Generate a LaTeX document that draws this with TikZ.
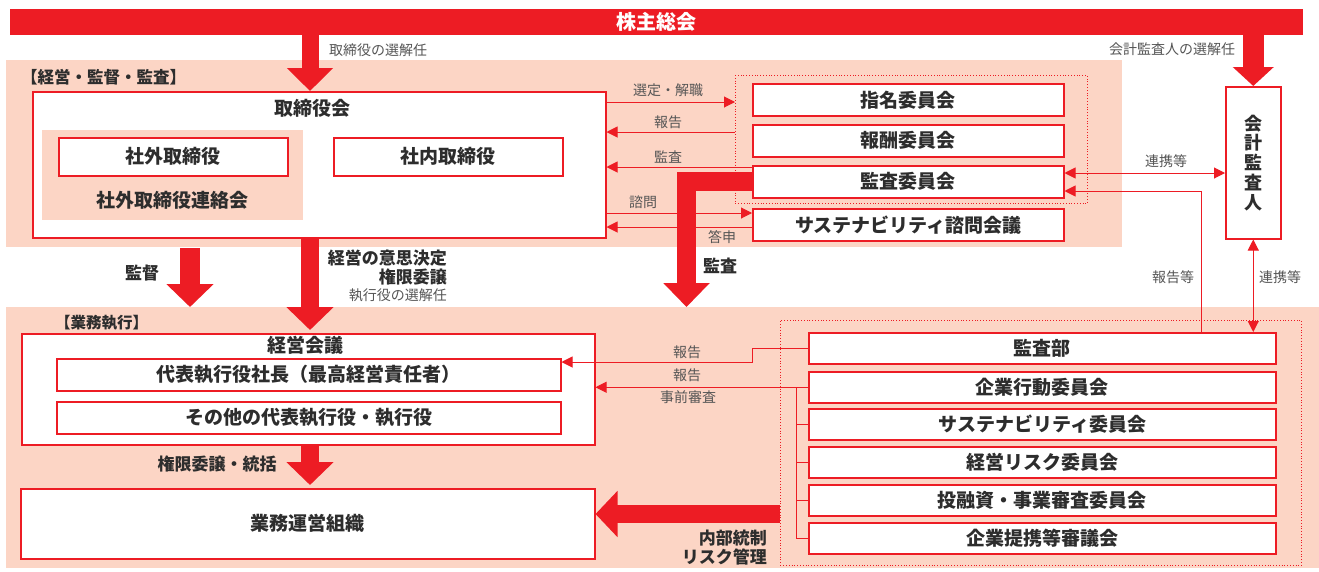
\documentclass[tikz,border=0pt]{standalone}
\usepackage{fontspec}
\setmainfont{Noto Sans CJK JP}
\newfontfamily\jp{Noto Sans CJK JP}
\usetikzlibrary{arrows.meta,calc}
\definecolor{jred}{RGB}{237,28,36}
\definecolor{jpeach}{RGB}{252,213,197}
\definecolor{jtext}{RGB}{45,45,45}
\definecolor{jlab}{RGB}{85,85,85}
\begin{document}
\begin{tikzpicture}[x=1pt,y=-1pt,
  rbox/.style={draw=jred, line width=1.5pt, fill=white, inner sep=0pt, anchor=north west, text=jtext, font=\jp\bfseries\fontsize{19}{22}\selectfont},
  btext/.style={text=jtext, inner sep=0pt, font=\jp\bfseries\fontsize{19}{22}\selectfont},
  peach/.style={fill=jpeach, inner sep=0pt, anchor=north west},
  dotbox/.style={draw=jred, dotted, line width=0.8pt, inner sep=0pt, anchor=north west},
  conn/.style={draw=jred, line width=1pt, -{Triangle[length=11pt,width=11pt]}},
  conntwo/.style={draw=jred, line width=1pt, {Triangle[length=11pt,width=11pt]}-{Triangle[length=11pt,width=11pt]}},
  plain/.style={draw=jred, line width=1pt},
  lab/.style={text=jlab, font=\jp\fontsize{14}{16}\selectfont, inner sep=0pt},
  blab/.style={text=jtext, font=\jp\bfseries\fontsize{17}{20}\selectfont, inner sep=0pt},
  bigarrow/.style={draw=jred, line width=18pt, -{Triangle[length=23pt,width=46pt]}},
]
\fill[white] (0,0) rectangle (1319,571);
\useasboundingbox (0,0) rectangle (1319,571);

% helper coordinates
\coordinate (x310) at (310,0);
\coordinate (x1201) at (1201,0);
\coordinate (x796) at (796,0);
\coordinate (y102) at (0,102);
\coordinate (y132) at (0,132);
\coordinate (y167) at (0,167);
\coordinate (y173) at (0,173);
\coordinate (y191) at (0,191);
\coordinate (y213) at (0,213);
\coordinate (y227) at (0,227);
\coordinate (y362) at (0,362);
\coordinate (y514) at (0,514);

% top bar
\node[fill=jred, minimum width=1293pt, minimum height=26pt, inner sep=0pt, anchor=north west, text=white, font=\jp\bfseries\fontsize{20}{22}\selectfont] (agm) at (10,9) {株主総会};

% regions
\node[peach, minimum width=1116pt, minimum height=187pt] (upper) at (6,60) {};
\node[peach, minimum width=1313pt, minimum height=261pt] (lower) at (6,307) {};
\node[text=jtext, anchor=west, inner sep=0pt, font=\jp\bfseries\fontsize{16.5}{18}\selectfont] (ulab) at (21,77) {【経営・監督・監査】};
\node[text=jtext, anchor=west, inner sep=0pt, font=\jp\bfseries\fontsize{15.5}{17}\selectfont] (llab) at (55,323) {【業務執行】};

% board
\node[rbox, minimum width=573pt, minimum height=146pt] (tb) at (32,91) {};
\node[btext] (tbtitle) at (312,108) {取締役会};
\node[peach, minimum width=261pt, minimum height=90pt] (outer) at (42,130) {};
\node[rbox, minimum width=229pt, minimum height=38pt] (shagai) at (58,137) {社外取締役};
\node[btext] (renraku) at (172,200) {社外取締役連絡会};
\node[rbox, minimum width=229pt, minimum height=38pt] (shanai) at (333,137) {社内取締役};

% committees
\node[dotbox, minimum width=352pt, minimum height=128pt] (dotA) at (735,75) {};
\node[rbox, minimum width=311pt, minimum height=32pt] (shimei) at (752,83) {指名委員会};
\node[rbox, minimum width=311pt, minimum height=32pt] (hoshu) at (752,124) {報酬委員会};
\node[rbox, minimum width=311pt, minimum height=32pt] (kansa) at (752,165) {監査委員会};
\node[rbox, minimum width=311pt, minimum height=32pt] (sust) at (752,208) {サステナビリティ諮問会議};

% auditor
\node[rbox, minimum width=55pt, minimum height=152pt, align=center, font=\jp\bfseries\fontsize{18}{19.7}\selectfont] (auditor) at (1225,86) {会\\計\\監\\査\\人};

% execution
\node[rbox, minimum width=573pt, minimum height=111pt] (keiei) at (21,333) {};
\node[btext] (keieititle) at (305,345) {経営会議};
\node[rbox, minimum width=504pt, minimum height=32pt] (daihyo) at (56,358) {代表執行役社長（最高経営責任者）};
\node[rbox, minimum width=504pt, minimum height=32pt] (sonota) at (56,401) {その他の代表執行役・執行役};
\node[rbox, minimum width=574pt, minimum height=70pt] (gyomu) at (20,488) {業務運営組織};

\node[dotbox, minimum width=521pt, minimum height=245pt] (dotB) at (780,320) {};
\node[rbox, minimum width=467pt, minimum height=31pt] (kansabu) at (808,332) {監査部};
\node[rbox, minimum width=467pt, minimum height=31pt] (kigyo) at (808,371) {企業行動委員会};
\node[rbox, minimum width=467pt, minimum height=31pt] (sust2) at (808,408) {サステナビリティ委員会};
\node[rbox, minimum width=467pt, minimum height=31pt] (risk) at (808,446) {経営リスク委員会};
\node[rbox, minimum width=467pt, minimum height=31pt] (toyushi) at (808,484) {投融資・事業審査委員会};
\node[rbox, minimum width=467pt, minimum height=31pt] (teikei) at (808,522) {企業提携等審議会};

% thin connectors upper
\draw[conn] (tb.east |- y102) -- (dotA.west |- y102);
\draw[conn] (dotA.west |- y132) -- (tb.east |- y132);
\draw[conn] (kansa.west |- y167) -- (tb.east |- y167);
\draw[conn] (tb.east |- y213) -- (sust.west |- y213);
\draw[conn] (sust.west |- y227) -- (tb.east |- y227);
\draw[conntwo] (kansa.east |- y173) -- (auditor.west |- y173);
\draw[conn] (kansabu.north -| x1201) |- (kansa.east |- y191);
\draw[conntwo] (auditor.south) -- (auditor.south |- kansabu.north);

\node[lab] (l1) at (668,90) {選定・解職};
\node[lab] (l2) at (668,122) {報告};
\node[lab] (l3) at (668,157) {監査};
\node[lab] (l4) at (643,202) {諮問};
\node[lab] (l5) at (722,237) {答申};
\node[lab] (l6) at (1166,161) {連携等};
\node[lab] (l7) at (1173,277) {報告等};
\node[lab] (l8) at (1280,277) {連携等};
\node[lab] (l9) at (378,50) {取締役の選解任};
\node[lab] (l10) at (1172,49) {会計監査人の選解任};

% thin connectors lower
\draw[conn] (kansabu.west) -- ++(-56,0) |- (daihyo.east |- y362);
\draw[conn] (kigyo.west) -- (keiei.east |- kigyo.west);
\draw[plain] (kigyo.west) -- ++(-12,0) |- (teikei.west);
\draw[plain] (x796 |- sust2.west) -- (sust2.west);
\draw[plain] (x796 |- risk.west) -- (risk.west);
\draw[plain] (x796 |- toyushi.west) -- (toyushi.west);
\node[lab] (l11) at (687,352) {報告};
\node[lab] (l12) at (687,375) {報告};
\node[lab] (l13) at (688,397) {事前審査};

% big arrows
\draw[bigarrow, line width=17pt, -{Triangle[length=23pt,width=45pt]}] (agm.south -| x310) -- (tb.north -| x310);
\draw[bigarrow, line width=21pt, -{Triangle[length=19pt,width=40pt]}] (agm.south -| auditor.north) -- (auditor.north);
\coordinate (kt1) at (190,248);
\coordinate (kt2) at (190,307);
\draw[bigarrow, line width=20pt] (kt1) -- (kt2);
\draw[bigarrow, shorten >=3pt] (tb.south -| x310) -- (keiei.north -| x310);
\draw[bigarrow, shorten >=3pt] (keiei.south -| x310) -- (gyomu.north -| x310);
\draw[bigarrow, -{Triangle[length=22pt,width=45pt]}] (dotB.west |- y514) -- (gyomu.east |- y514);
\coordinate (kansatip) at (686.5,307);
\draw[bigarrow, line width=19pt, line join=miter, -{Triangle[length=24pt,width=45pt]}] (kansa.west) -| (kansatip);

% bold labels
\node[blab] (b1) at (142,273) {監督};
\node[blab, anchor=east] (b2) at (447,258) {経営の意思決定};
\node[blab, anchor=east] (b3) at (447,277) {権限委譲};
\node[lab, anchor=east] (b4) at (447,295) {執行役の選解任};
\node[blab] (b5) at (720,266) {監査};
\node[blab] (b6) at (217,464) {権限委譲・統括};
\node[blab, anchor=east] (b7) at (767,538) {内部統制};
\node[blab, anchor=east] (b8) at (767,557) {リスク管理};
\end{tikzpicture}
\end{document}
